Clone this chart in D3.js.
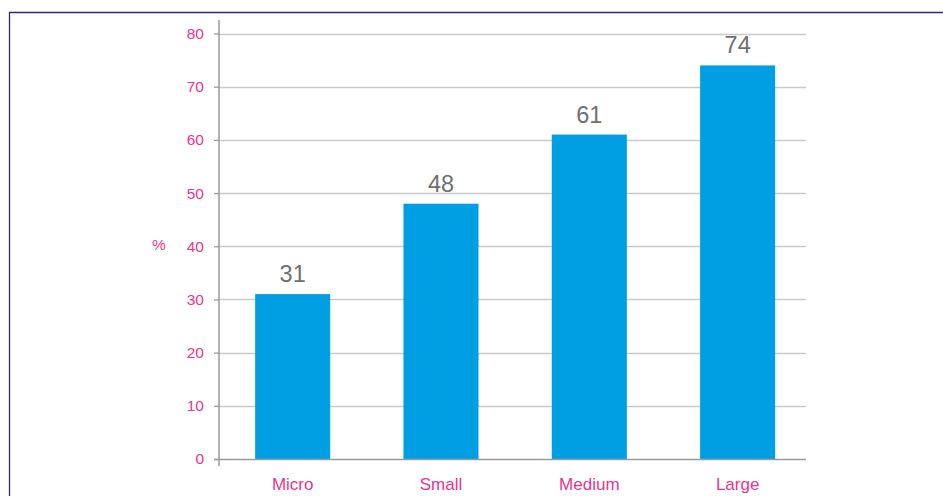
<!DOCTYPE html>
<html>
<head>
<meta charset="utf-8">
<script src="https://cdn.jsdelivr.net/npm/d3@7"></script>
<style>
  html, body { margin: 0; padding: 0; background: #fff; }
  svg { display: block; font-family: "Liberation Sans", Arial, Helvetica, sans-serif; }
</style>
</head>
<body>
<svg id="chart" width="943" height="496"></svg>
<script>
// Share of firms by size class (%)
const categories = ["Micro", "Small", "Medium", "Large"];
const values = [31, 48, 61, 74];
const yTicks = [0, 10, 20, 30, 40, 50, 60, 70, 80];
const yLabel = "%";

const pink = "#e8368f";
const barColor = "#009fe3";

const svg = d3.select("#chart");

// Frame line across the top and down the left side
svg.append("path")
  .attr("d", "M9.5,500 L9.5,12.5 L950,12.5")
  .attr("fill", "none")
  .attr("stroke", "#2b2675")
  .attr("stroke-width", 1.3);

const y = d3.scaleLinear().domain([0, 80]).range([459, 33.5]);
const x = d3.scaleBand().domain(categories).range([218.5, 811.8]).paddingInner(0.494).paddingOuter(0.247);

const axisLeft = 219;
const gridRight = 806;

// Horizontal gridlines
svg.append("g")
  .selectAll("line")
  .data(yTicks.filter(d => d > 0))
  .join("line")
  .attr("x1", axisLeft).attr("x2", gridRight)
  .attr("y1", d => Math.round(y(d)) + 0.5).attr("y2", d => Math.round(y(d)) + 0.5)
  .attr("stroke", "#c9c9c9")
  .attr("stroke-width", 1.3);

// Y axis with pink tick labels
const yAxis = svg.append("g")
  .attr("transform", `translate(${axisLeft},0)`)
  .call(d3.axisLeft(y).tickValues(yTicks).tickSize(5).tickPadding(10).tickSizeOuter(0));
yAxis.select(".domain").remove();
yAxis.selectAll(".tick line").attr("stroke", "#9a9a9a").attr("stroke-width", 1.3);
yAxis.selectAll(".tick text")
  .attr("fill", pink)
  .attr("font-size", 15.5)
  .attr("font-family", "Liberation Sans, Arial, sans-serif");

// Vertical axis line
svg.append("line")
  .attr("x1", axisLeft).attr("x2", axisLeft)
  .attr("y1", 20).attr("y2", 466)
  .attr("stroke", "#9a9a9a").attr("stroke-width", 1.5);

// Bars
svg.append("g")
  .selectAll("rect")
  .data(values)
  .join("rect")
  .attr("x", (d, i) => x(categories[i]))
  .attr("width", x.bandwidth())
  .attr("y", d => y(d))
  .attr("height", d => y(0) - y(d))
  .attr("fill", barColor);

// Baseline
svg.append("line")
  .attr("x1", axisLeft - 5).attr("x2", gridRight)
  .attr("y1", y(0) + 0.5).attr("y2", y(0) + 0.5)
  .attr("stroke", "#9a9a9a").attr("stroke-width", 1.5);

// Value labels above bars
svg.append("g")
  .selectAll("text")
  .data(values)
  .join("text")
  .attr("x", (d, i) => x(categories[i]) + x.bandwidth() / 2)
  .attr("y", d => y(d) - 12)
  .attr("text-anchor", "middle")
  .attr("font-size", 23.5)
  .attr("fill", "#6f6f6f")
  .text(d => d);

// Category labels
svg.append("g")
  .selectAll("text")
  .data(categories)
  .join("text")
  .attr("x", d => x(d) + x.bandwidth() / 2)
  .attr("y", 490)
  .attr("text-anchor", "middle")
  .attr("font-size", 17)
  .attr("fill", pink)
  .text(d => d);

// Unit label
svg.append("text")
  .attr("x", 159)
  .attr("y", 250)
  .attr("text-anchor", "middle")
  .attr("font-size", 15.5)
  .attr("fill", pink)
  .text(yLabel);
</script>
</body>
</html>
